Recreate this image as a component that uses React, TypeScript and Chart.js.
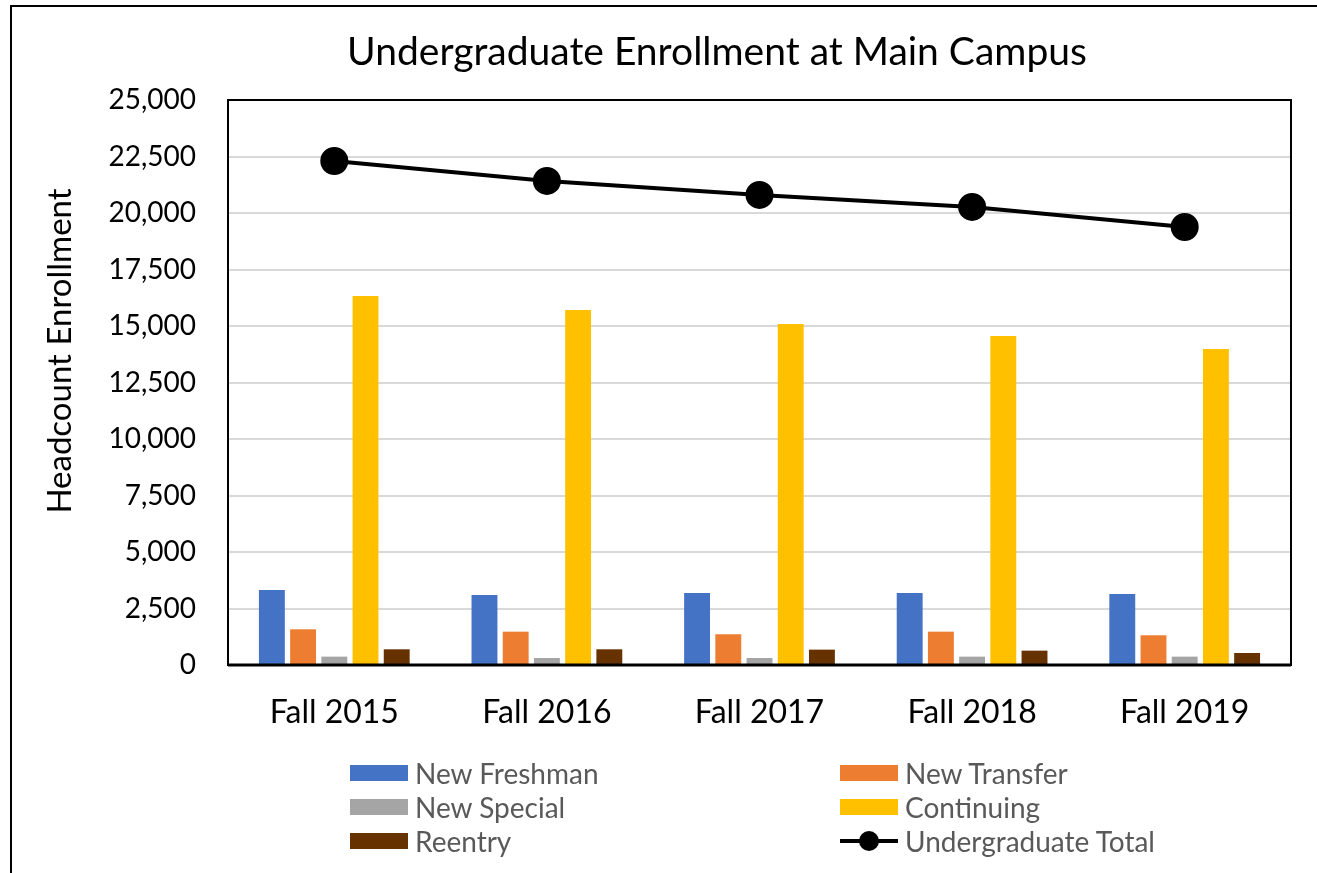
import React, { useEffect, useRef } from "react";
import { Chart, registerables } from "chart.js";

Chart.register(...registerables);

const categories = ["Fall 2015", "Fall 2016", "Fall 2017", "Fall 2018", "Fall 2019"];
const newFreshman = [3320, 3100, 3190, 3190, 3140];
const newTransfer = [1580, 1475, 1360, 1475, 1315];
const newSpecial = [370, 310, 310, 370, 370];
const continuing = [16330, 15710, 15090, 14560, 13980];
const reentry = [695, 695, 680, 635, 530];
const undergraduateTotal = [22300, 21420, 20800, 20270, 19380];

const title = "Undergraduate Enrollment at Main Campus";
const yTitle = "Headcount Enrollment";

const barSeries = [
  { label: "New Freshman", data: newFreshman, color: "#4472C4" },
  { label: "New Transfer", data: newTransfer, color: "#ED7D31" },
  { label: "New Special", data: newSpecial, color: "#A5A5A5" },
  { label: "Continuing", data: continuing, color: "#FFC000" },
  { label: "Reentry", data: reentry, color: "#663300" },
];
const lineSeries = { label: "Undergraduate Total", data: undergraduateTotal, color: "#000000" };

const FONT = "Lato";

const plotBorder = {
  id: "plotBorder",
  afterDraw(chart: any) {
    const { ctx, chartArea } = chart;
    ctx.save();
    ctx.strokeStyle = "#000";
    ctx.lineWidth = 2;
    ctx.strokeRect(chartArea.left, chartArea.top, chartArea.right - chartArea.left, chartArea.bottom - chartArea.top);
    ctx.lineWidth = 3;
    ctx.beginPath();
    ctx.moveTo(chartArea.left, chartArea.bottom);
    ctx.lineTo(chartArea.right, chartArea.bottom);
    ctx.stroke();
    ctx.restore();
  },
};

export default function App() {
  const ref = useRef<HTMLCanvasElement>(null);

  useEffect(() => {
    if (!ref.current) return;
    const chart = new Chart(ref.current, {
      type: "bar",
      data: {
        labels: categories,
        datasets: [
          {
            type: "line",
            label: lineSeries.label,
            data: lineSeries.data,
            borderColor: lineSeries.color,
            backgroundColor: lineSeries.color,
            borderWidth: 4,
            pointRadius: 12,
            pointBackgroundColor: "#000",
            pointBorderColor: "#000",
            tension: 0,
            order: 0,
          } as any,
          ...barSeries.map((s) => ({
            type: "bar" as const,
            label: s.label,
            data: s.data,
            backgroundColor: s.color,
            borderWidth: 0,
            categoryPercentage: 0.734,
            barPercentage: 0.83,
            order: 1,
          })),
        ],
      },
      options: {
        responsive: false,
        animation: false,
        layout: { padding: { left: 20, right: 26, top: 100, bottom: 0 } },
        plugins: {
          legend: { display: false },
          tooltip: { enabled: false },
          title: { display: false, text: title },
        },
        scales: {
          x: {
            grid: { display: false, drawTicks: false },
            border: { display: false },
            ticks: { color: "#000", font: { family: FONT, size: 32 }, padding: 28, maxRotation: 0 },
            afterFit: (scale: any) => {
              scale.height = 208;
            },
          },
          y: {
            min: 0,
            max: 25000,
            grid: { color: "#d9d9d9", lineWidth: 2, drawTicks: false },
            border: { display: false },
            ticks: {
              stepSize: 2500,
              color: "#000",
              font: { family: FONT, size: 28 },
              padding: 32,
              callback: (v: any) => Number(v).toLocaleString("en-US"),
            },
            title: { display: false, text: yTitle },
            afterFit: (scale: any) => {
              scale.width = 208;
            },
          },
        },
      },
      plugins: [plotBorder],
    });
    return () => chart.destroy();
  }, []);

  const legendItems = [
    { ...barSeries[0], col: 0, row: 0, kind: "box" },
    { ...barSeries[1], col: 1, row: 0, kind: "box" },
    { ...barSeries[2], col: 0, row: 1, kind: "box" },
    { ...barSeries[3], col: 1, row: 1, kind: "box" },
    { ...barSeries[4], col: 0, row: 2, kind: "box" },
    { ...lineSeries, col: 1, row: 2, kind: "line" },
  ];
  const colX = [350, 840];
  const rowY = [773, 807, 841];

  return (
    <div style={{ position: "absolute", left: 0, top: 0, width: 1317, height: 873, overflow: "hidden", background: "#fff" }}>
      <canvas ref={ref} width={1317} height={873} style={{ position: "absolute", left: 0, top: 0 }} />
      <div
        style={{
          position: "absolute",
          left: 10,
          top: 5,
          width: 1400,
          height: 1000,
          borderLeft: "2px solid #000",
          borderTop: "2px solid #000",
          pointerEvents: "none",
        }}
      />
      <div
        style={{
          position: "absolute",
          left: 717,
          top: 50,
          transform: "translate(-50%, -50%)",
          fontFamily: FONT,
          fontSize: 39,
          color: "#000",
          whiteSpace: "nowrap",
          lineHeight: "47px",
        }}
      >
        {title}
      </div>
      <div
        style={{
          position: "absolute",
          left: 58,
          top: 351,
          transform: "translate(-50%, -50%) rotate(-90deg)",
          fontFamily: FONT,
          fontSize: 33,
          color: "#000",
          whiteSpace: "nowrap",
          lineHeight: 1,
        }}
      >
        {yTitle}
      </div>
      {legendItems.map((it) => (
        <div
          key={it.label}
          style={{
            position: "absolute",
            left: colX[it.col],
            top: rowY[it.row] - 16,
            height: 32,
            display: "flex",
            alignItems: "center",
            fontFamily: FONT,
            fontSize: 28,
            color: "#595959",
            whiteSpace: "nowrap",
          }}
        >
          {it.kind === "box" ? (
            <div style={{ width: 58, height: 16, background: it.color, marginRight: 7 }} />
          ) : (
            <div style={{ width: 58, height: 24, position: "relative", marginRight: 7 }}>
              <div style={{ position: "absolute", left: 0, top: 10, width: 58, height: 4, background: "#000" }} />
              <div style={{ position: "absolute", left: 19, top: 2, width: 20, height: 20, borderRadius: 10, background: "#000" }} />
            </div>
          )}
          <span>{it.label}</span>
        </div>
      ))}
    </div>
  );
}
